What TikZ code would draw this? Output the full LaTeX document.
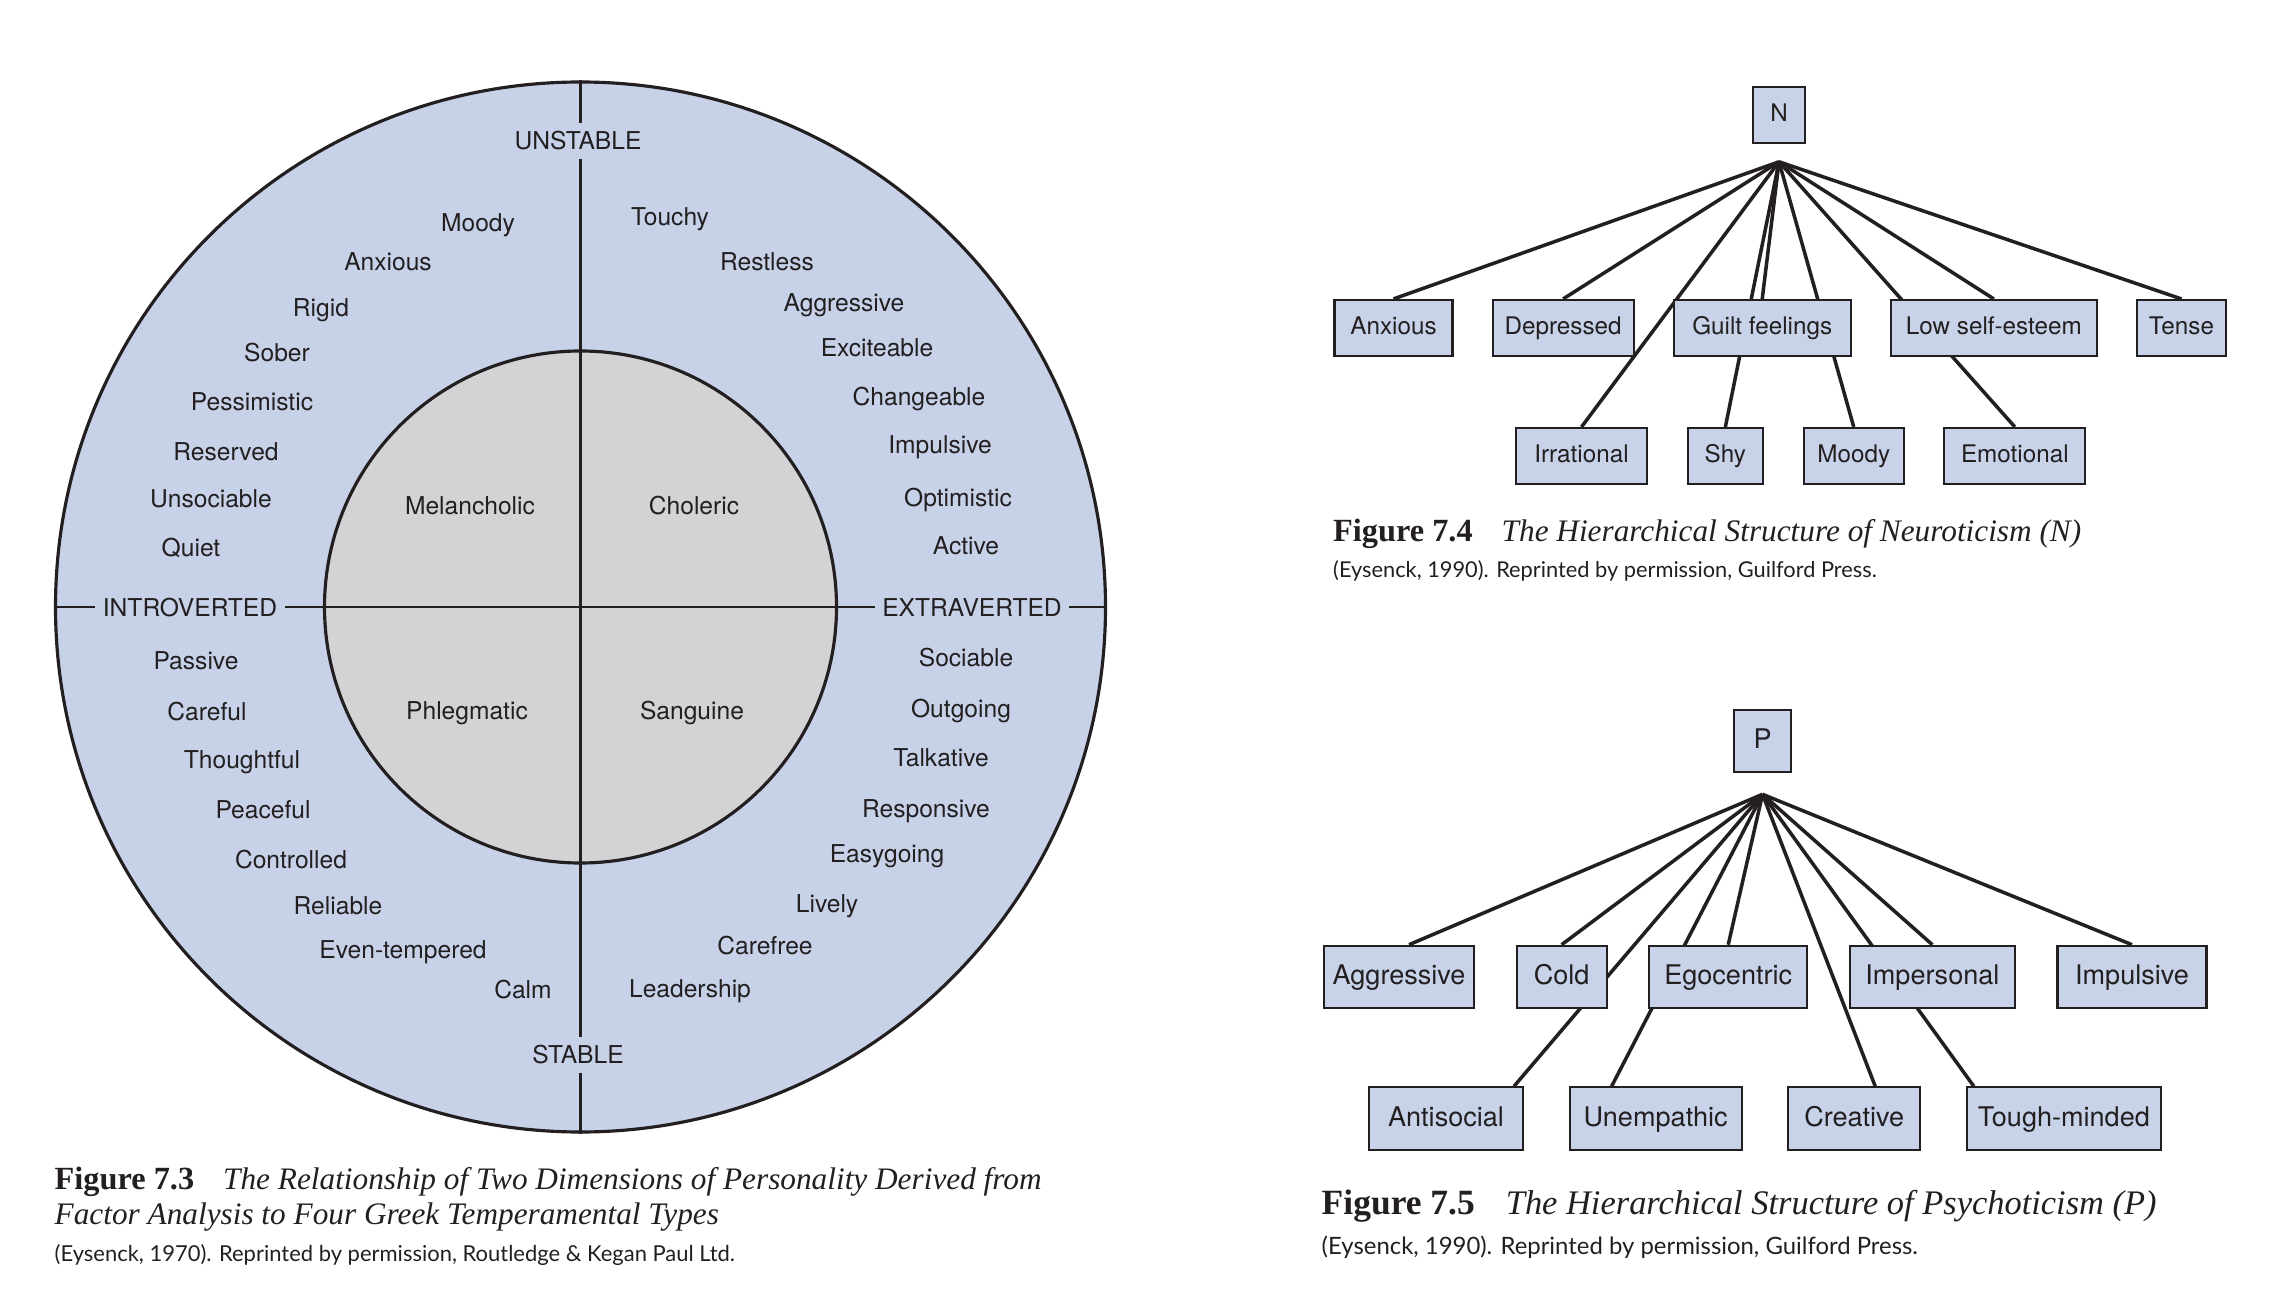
\documentclass[tikz,border=0pt]{standalone}
\usepackage{fontspec}
\setmainfont{Liberation Serif}
\setsansfont{TeX Gyre Heros}
\newfontfamily\creditfont{Lato}
\usetikzlibrary{positioning, backgrounds}
\definecolor{ringblue}{RGB}{199,210,233}
\definecolor{coregray}{RGB}{211,211,213}
\definecolor{boxblue}{RGB}{200,210,233}
\definecolor{ink}{RGB}{35,31,32}
\tikzset{
  trait/.style={font=\sffamily\fontsize{7}{8}\selectfont, text=ink, inner sep=0pt,
    text height=1.77mm, text depth=0pt},
  pole/.style={trait, fill=ringblue, inner xsep=0.75mm, inner ysep=0.9mm},
  axis/.style={draw=ink, line width=0.85pt},
  tbox/.style={draw=ink, line width=0.6pt, fill=boxblue, inner sep=0pt, text=ink},
  nbox/.style={tbox, font=\sffamily\fontsize{6.9}{8}\selectfont, minimum height=5.6mm,
    text height=4.97pt, text depth=1pt},
  pbox/.style={tbox, font=\sffamily\fontsize{7.7}{9}\selectfont, minimum height=6.25mm,
    text height=5.54pt, text depth=1.1pt},
  link/.style={draw=ink, line width=1pt},
  capt/.style={font=\fontsize{8.9}{10}\selectfont, text=ink, inner sep=0pt, anchor=base west},
  credit/.style={font=\creditfont\fontsize{6.2}{7}\selectfont, text=ink, inner sep=0pt, anchor=base west},
}
\newcommand{\fignum}[2]{{\fontsize{#1}{10}\selectfont\bfseries #2}}
\begin{document}
\begin{tikzpicture}[x=0.1mm, y=-0.1mm]
    \useasboundingbox (0,0) rectangle (2296,1310);
    % Figure 7.3
    \node[circle, draw=ink, line width=0.9pt, fill=ringblue, minimum size=105mm, inner sep=0pt] (ring) at (580.5,607) {};
    \node[circle, draw=ink, line width=0.9pt, fill=coregray, minimum size=51.2mm, inner sep=0pt] (core) at (ring.center) {};
    \draw[axis] (ring.north) -- (ring.south);
    \draw[axis] (ring.west) -- (ring.east);
    \node[pole] (unstable) at (578,141) {UNSTABLE};
    \node[pole] (stable) at (578,1055) {STABLE};
    \node[pole] (intro) at (190,608) {INTROVERTED};
    \node[pole] (extra) at (972,608) {EXTRAVERTED};
    \node[trait] (melan) at (470,506) {Melancholic};
    \node[trait] (choler) at (694,506) {Choleric};
    \node[trait] (phleg) at (467,711) {Phlegmatic};
    \node[trait] (sang) at (692,711) {Sanguine};
    % unstable introvert
    \node[trait] (moody) at (478,223) {Moody};
    \node[trait] (anxious) at (388,262) {Anxious};
    \node[trait] (rigid) at (321,308) {Rigid};
    \node[trait] (sober) at (277,353) {Sober};
    \node[trait] (pessim) at (252,402) {Pessimistic};
    \node[trait] (reserved) at (226,452) {Reserved};
    \node[trait] (unsoc) at (211,499) {Unsociable};
    \node[trait] (quiet) at (191,548) {Quiet};
    % stable introvert
    \node[trait] (passive) at (196,661) {Passive};
    \node[trait] (careful) at (207,712) {Careful};
    \node[trait] (thought) at (242,760) {Thoughtful};
    \node[trait] (peace) at (263,810) {Peaceful};
    \node[trait] (control) at (291,860) {Controlled};
    \node[trait] (reliable) at (338,906) {Reliable};
    \node[trait] (eventemp) at (403,950) {Even-tempered};
    \node[trait] (calm) at (523,990) {Calm};
    % unstable extravert
    \node[trait] (touchy) at (670,217) {Touchy};
    \node[trait] (restless) at (767,262) {Restless};
    \node[trait] (aggr) at (844,303) {Aggressive};
    \node[trait] (excite) at (877,348) {Exciteable};
    \node[trait] (change) at (919,397) {Changeable};
    \node[trait] (impuls) at (940,445) {Impulsive};
    \node[trait] (optim) at (958,498) {Optimistic};
    \node[trait] (active) at (966,546) {Active};
    % stable extravert
    \node[trait] (sociable) at (966,658) {Sociable};
    \node[trait] (outgoing) at (961,709) {Outgoing};
    \node[trait] (talk) at (941,758) {Talkative};
    \node[trait] (respons) at (926,809) {Responsive};
    \node[trait] (easy) at (887,854) {Easygoing};
    \node[trait] (lively) at (827,904) {Lively};
    \node[trait] (carefree) at (765,946) {Carefree};
    \node[trait] (leader) at (690,989) {Leadership};
    \node[capt] (cap3a) at (54,1189) {\fignum{9.2}{Figure 7.3}\hspace{2.9mm}\textit{The Relationship of Two Dimensions of Personality Derived from}};
    \node[capt] (cap3b) at (54,1224) {\textit{Factor Analysis to Four Greek Temperamental Types}};
    \node[credit, font=\creditfont\fontsize{6.25}{7}\selectfont] (cred3) at (54,1261) {(Eysenck, 1970). Reprinted by permission, Routledge \& Kegan Paul Ltd.};
    % Figure 7.4
    \node[nbox, minimum width=5.15mm, minimum height=5.65mm] (nroot) at (1779,115) {N};
    \coordinate[below=1.75mm of nroot] (nhub);
    \node[nbox, minimum width=11.8mm] (nanx) at (1393.5,328) {Anxious};
    \node[nbox, minimum width=14.1mm, right=3.8mm of nanx] (ndep) {Depressed};
    \node[nbox, minimum width=17.7mm, right=3.8mm of ndep] (ngui) {Guilt feelings};
    \node[nbox, minimum width=20.6mm, right=3.8mm of ngui] (nlow) {Low self-esteem};
    \node[nbox, minimum width=8.9mm, right=3.8mm of nlow] (nten) {Tense};
    \node[nbox, minimum width=13.1mm] (nirr) at (1581.5,456) {Irrational};
    \node[nbox, minimum width=7.55mm, right=3.85mm of nirr] (nshy) {Shy};
    \node[nbox, minimum width=10mm, right=3.85mm of nshy] (nmoo) {Moody};
    \node[nbox, minimum width=14.1mm, right=3.85mm of nmoo] (nemo) {Emotional};
    \begin{scope}[on background layer]
      \foreach \k in {nanx, ndep, nirr, ngui, nshy, nmoo, nlow, nemo, nten}
        \draw[link] (nhub) -- (\k.north);
    \end{scope}
    \node[capt] (cap4) at (1332.5,542) {\fignum{9.2}{Figure 7.4}\hspace{2.9mm}\textit{The Hierarchical Structure of Neuroticism (N)}};
    \node[credit] (cred4) at (1332.5,578) {(Eysenck, 1990). Reprinted by permission, Guilford Press.};
    % Figure 7.5
    \node[pbox, minimum width=5.7mm] (proot) at (1762.5,741) {P};
    \coordinate[below=2.1mm of proot] (phub);
    \node[pbox, minimum width=15mm] (pagg) at (1399,977) {Aggressive};
    \node[pbox, minimum width=9mm, right=4.05mm of pagg] (pcold) {Cold};
    \node[pbox, minimum width=15.8mm, right=4.05mm of pcold] (pego) {Egocentric};
    \node[pbox, minimum width=16.5mm, right=4.05mm of pego] (pimp) {Impersonal};
    \node[pbox, minimum width=14.9mm, right=4.05mm of pimp] (pimv) {Impulsive};
    \node[pbox, minimum width=15.4mm] (panti) at (1446,1118.6) {Antisocial};
    \node[pbox, minimum width=17.2mm, right=4.45mm of panti] (punem) {Unempathic};
    \node[pbox, minimum width=13.2mm, right=4.45mm of punem] (pcre) {Creative};
    \node[pbox, minimum width=19.4mm, right=4.45mm of pcre] (ptou) {Tough-minded};
    \begin{scope}[on background layer]
      \draw[link] (phub) -- ([xshift=1mm]pagg.north);
      \draw[link] (phub) -- (pcold.north);
      \draw[link] (phub) -- ([xshift=6.8mm]panti.north);
      \draw[link] (phub) -- (pego.north);
      \draw[link] (phub) -- ([xshift=-4.4mm]punem.north);
      \draw[link] (phub) -- ([xshift=2.1mm]pcre.north);
      \draw[link] (phub) -- (pimp.north);
      \draw[link] (phub) -- ([xshift=-9mm]ptou.north);
      \draw[link] (phub) -- (pimv.north);
    \end{scope}
    \node[capt, font=\fontsize{9.8}{11}\selectfont] (cap5) at (1321,1214) {\fignum{10.1}{Figure 7.5}\hspace{3.1mm}\textit{The Hierarchical Structure of Psychoticism (P)}};
    \node[credit, font=\creditfont\fontsize{6.8}{8}\selectfont] (cred5) at (1321,1254) {(Eysenck, 1990). Reprinted by permission, Guilford Press.};
  \end{tikzpicture}
\end{document}
